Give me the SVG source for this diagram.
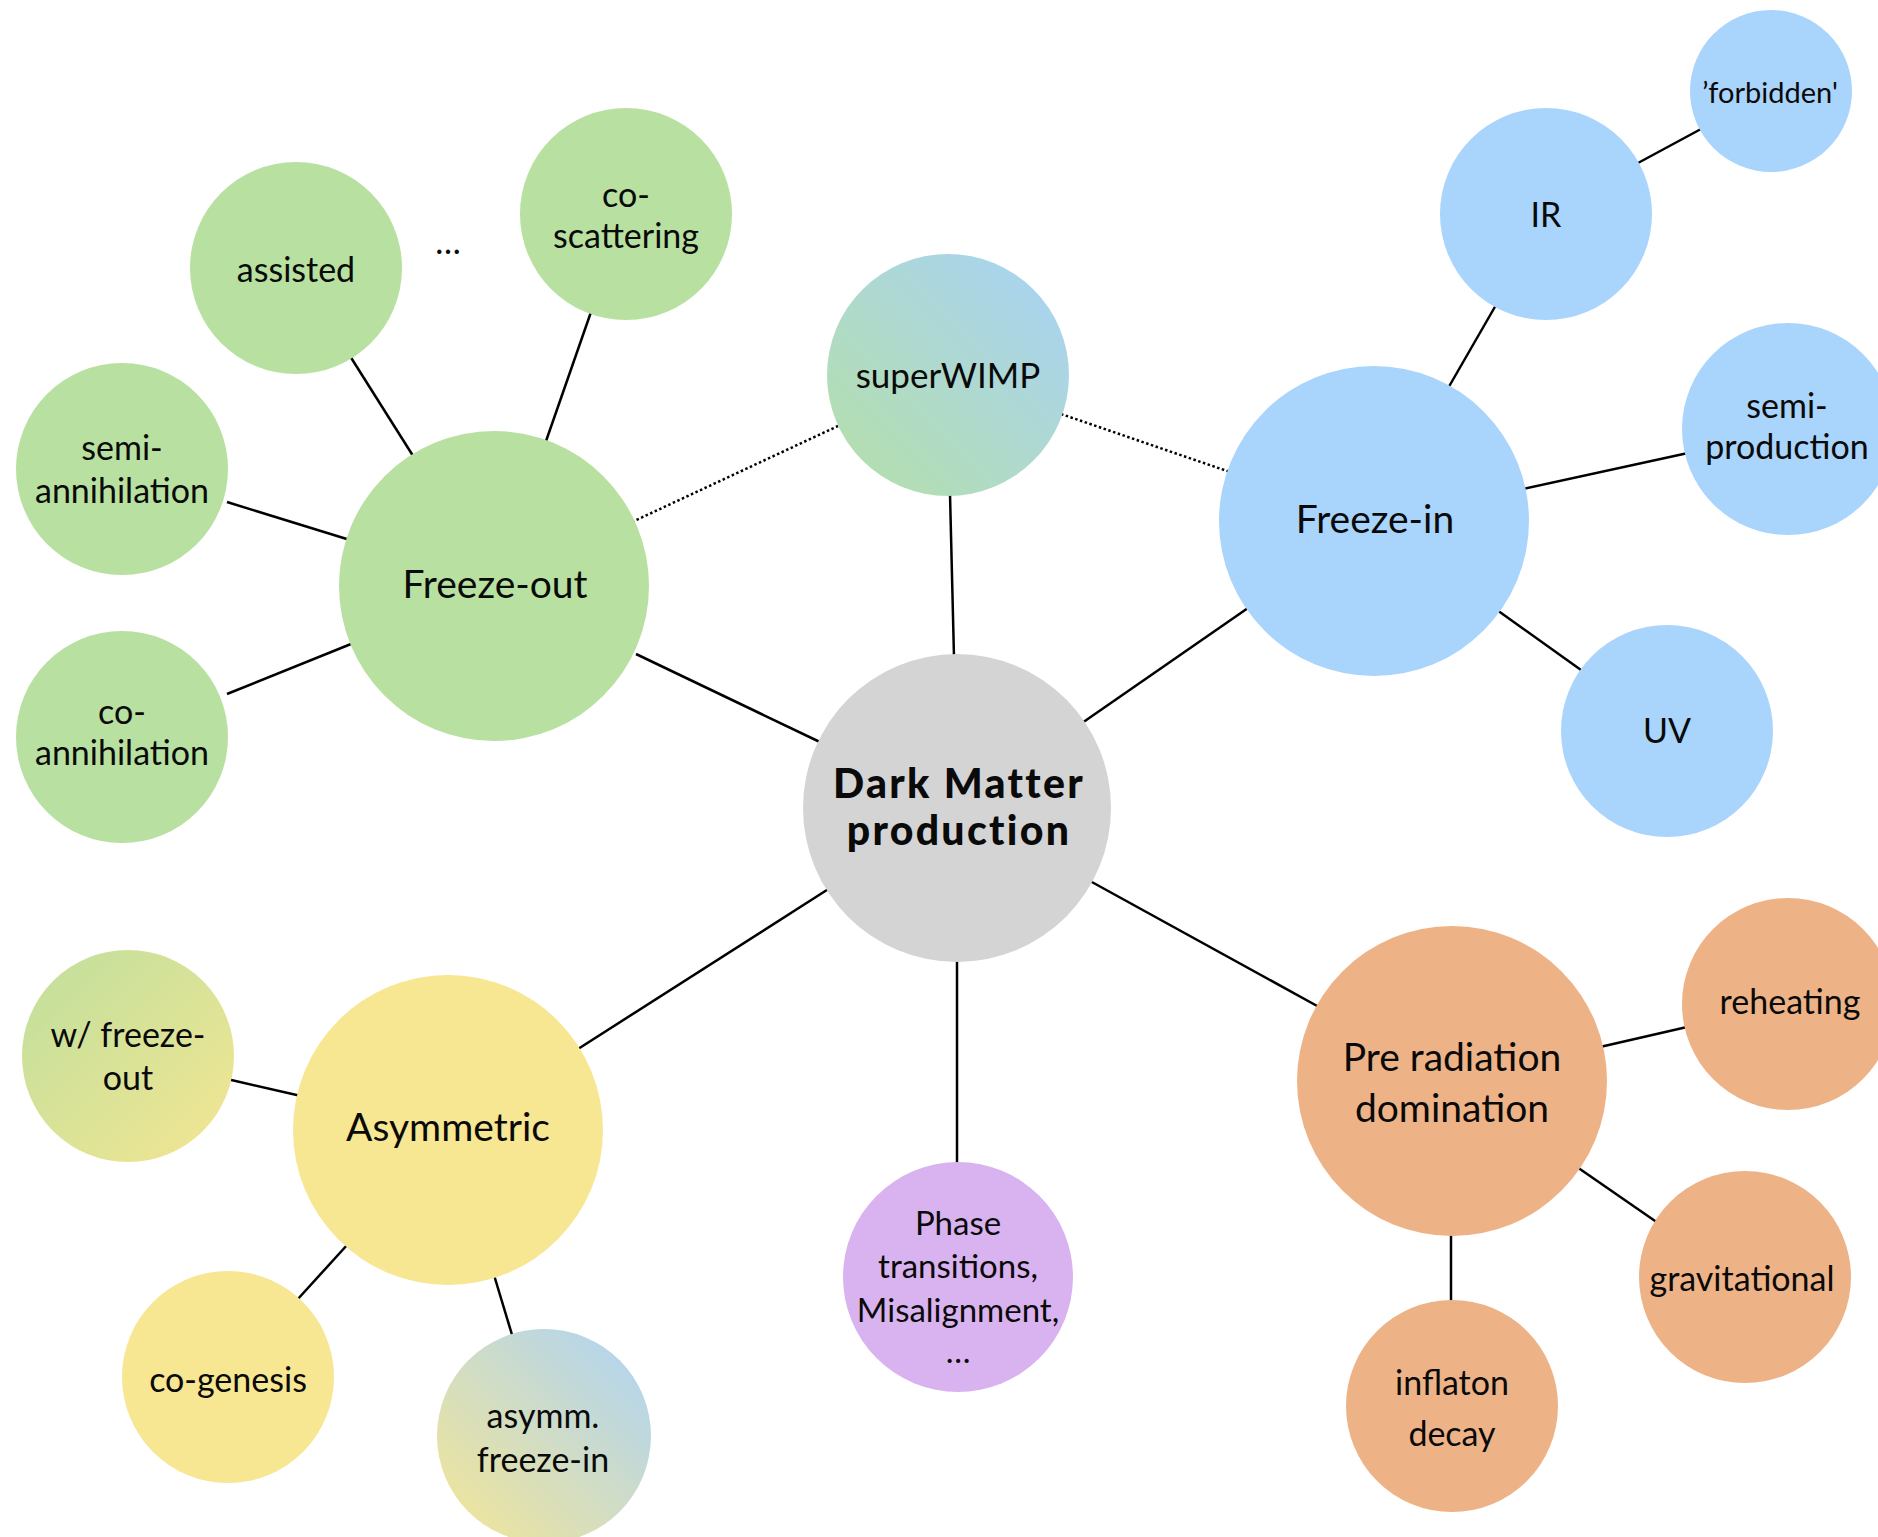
<svg xmlns="http://www.w3.org/2000/svg" width="1878" height="1537" viewBox="0 0 1878 1537">
<style>
text{font-family:Lato,"Open Sans","Liberation Sans",sans-serif;fill:#0a0a0a;text-anchor:middle}
.m{font-size:39px}
.s{font-size:34px}
.p{font-size:33px}
.f{font-size:29px}
.dm{font-size:41px;font-weight:900;letter-spacing:2.3px}
.g{fill:#b8e0a0}
.b{fill:#a9d4fb}
.o{fill:#edb387}
.y{fill:#f7e692}
.v{fill:#d9b3f0}
.gr{fill:#d3d4d3}
.ln{stroke:#000;stroke-width:2.5;fill:none}
.dot{stroke:#000;stroke-width:2.5;fill:none;stroke-dasharray:2.5 2.5}
</style>
<defs>
<linearGradient id="gSW" x1="0" y1="1" x2="1" y2="0">
<stop offset="0" stop-color="#b5e0a6"/><stop offset="1" stop-color="#a8d2f8"/>
</linearGradient>
<linearGradient id="gWF" x1="0" y1="0" x2="1" y2="1">
<stop offset="0" stop-color="#bfdf9d"/><stop offset="1" stop-color="#f3e692"/>
</linearGradient>
<linearGradient id="gAF" x1="0" y1="1" x2="1" y2="0">
<stop offset="0" stop-color="#f5e693"/><stop offset="1" stop-color="#acd3f7"/>
</linearGradient>
</defs>
<rect width="1878" height="1537" fill="#ffffff"/>
<g id="connectors">
<line class="ln" x1="636" y1="654" x2="822" y2="743"/>
<line class="ln" x1="950" y1="494" x2="954" y2="657"/>
<line class="ln" x1="1248" y1="608" x2="1082" y2="723"/>
<line class="ln" x1="578" y1="1049" x2="830" y2="888"/>
<line class="ln" x1="1090" y1="881" x2="1319" y2="1007"/>
<line class="ln" x1="957" y1="958" x2="957" y2="1165"/>
<line class="ln" x1="350" y1="356" x2="415" y2="459"/>
<line class="ln" x1="591" y1="312" x2="545" y2="444"/>
<line class="ln" x1="227" y1="502" x2="350" y2="540"/>
<line class="ln" x1="227" y1="694" x2="351" y2="644"/>
<line class="dot" x1="632" y1="522" x2="838" y2="426"/>
<line class="dot" x1="1061" y1="414" x2="1230" y2="472"/>
<line class="ln" x1="1638" y1="163" x2="1701" y2="129"/>
<line class="ln" x1="1496" y1="305" x2="1447" y2="390"/>
<line class="ln" x1="1688" y1="453" x2="1523" y2="489"/>
<line class="ln" x1="1581" y1="670" x2="1497" y2="610"/>
<line class="ln" x1="227" y1="1079" x2="301" y2="1096"/>
<line class="ln" x1="297" y1="1300" x2="348" y2="1244"/>
<line class="ln" x1="513" y1="1338" x2="494" y2="1275"/>
<line class="ln" x1="1600" y1="1047" x2="1687" y2="1027"/>
<line class="ln" x1="1577" y1="1167" x2="1658" y2="1223"/>
<line class="ln" x1="1451" y1="1234" x2="1451" y2="1303"/>
</g>
<g id="node-dm">
<circle class="gr" cx="957" cy="808" r="154"/>
<text class="dm" x="959" y="798">Dark Matter</text>
<text class="dm" x="959" y="845">production</text>
</g>
<g id="node-freezeout">
<circle class="g" cx="494" cy="586" r="155"/>
<text class="m" x="495" y="598">Freeze-out</text>
</g>
<g id="node-superwimp">
<circle fill="url(#gSW)" cx="948" cy="375" r="121"/>
<text x="948" y="388" style="font-size:35px">superWIMP</text>
</g>
<g id="node-freezein">
<circle class="b" cx="1374" cy="521" r="155"/>
<text class="m" x="1375" y="533">Freeze-in</text>
</g>
<g id="node-asymmetric">
<circle class="y" cx="448" cy="1130" r="155"/>
<text class="m" x="448" y="1141">Asymmetric</text>
</g>
<g id="node-preradiation">
<circle class="o" cx="1452" cy="1081" r="155"/>
<text class="m" x="1452" y="1071">Pre radiation</text>
<text class="m" x="1452" y="1122">domination</text>
</g>
<g id="node-phase">
<circle class="v" cx="958" cy="1277" r="115"/>
<text class="p" x="958" y="1235">Phase</text>
<text class="p" x="958" y="1278">transitions,</text>
<text class="p" x="958" y="1322">Misalignment,</text>
<text class="p" x="958" y="1363">…</text>
</g>
<g id="node-assisted">
<circle class="g" cx="296" cy="268" r="106"/>
<text class="s" x="296" y="282">assisted</text>
</g>
<g id="node-ellipsis">
<text class="s" x="448" y="254">…</text>
</g>
<g id="node-coscattering">
<circle class="g" cx="626" cy="214" r="106"/>
<text class="s" x="626" y="207">co-</text>
<text class="s" x="626" y="248">scattering</text>
</g>
<g id="node-semiannihilation">
<circle class="g" cx="122" cy="469" r="106"/>
<text class="s" x="122" y="460">semi-</text>
<text class="s" x="122" y="503">annihilation</text>
</g>
<g id="node-coannihilation">
<circle class="g" cx="122" cy="737" r="106"/>
<text class="s" x="122" y="724">co-</text>
<text class="s" x="122" y="765">annihilation</text>
</g>
<g id="node-ir">
<circle class="b" cx="1546" cy="214" r="106"/>
<text class="s" x="1546" y="227">IR</text>
</g>
<g id="node-forbidden">
<circle class="b" cx="1771" cy="91" r="81"/>
<text class="f" x="1770" y="103">’forbidden'</text>
</g>
<g id="node-semiproduction">
<circle class="b" cx="1788" cy="429" r="106"/>
<text class="s" x="1787" y="418">semi-</text>
<text class="s" x="1787" y="459">production</text>
</g>
<g id="node-uv">
<circle class="b" cx="1667" cy="731" r="106"/>
<text class="s" x="1667" y="743">UV</text>
</g>
<g id="node-wfreezeout">
<circle fill="url(#gWF)" cx="128" cy="1056" r="106"/>
<text class="s" x="128" y="1047">w/ freeze-</text>
<text class="s" x="128" y="1090">out</text>
</g>
<g id="node-cogenesis">
<circle class="y" cx="228" cy="1377" r="106"/>
<text class="s" x="228" y="1392">co-genesis</text>
</g>
<g id="node-asymmfreezein">
<circle fill="url(#gAF)" cx="544" cy="1436" r="107"/>
<text class="s" x="543" y="1428">asymm.</text>
<text class="s" x="543" y="1472">freeze-in</text>
</g>
<g id="node-reheating">
<circle class="o" cx="1788" cy="1004" r="106"/>
<text class="s" x="1790" y="1014">reheating</text>
</g>
<g id="node-gravitational">
<circle class="o" cx="1745" cy="1277" r="106"/>
<text class="s" x="1742" y="1291">gravitational</text>
</g>
<g id="node-inflaton">
<circle class="o" cx="1452" cy="1406" r="106"/>
<text class="s" x="1452" y="1395">inflaton</text>
<text class="s" x="1452" y="1446">decay</text>
</g>
</svg>
